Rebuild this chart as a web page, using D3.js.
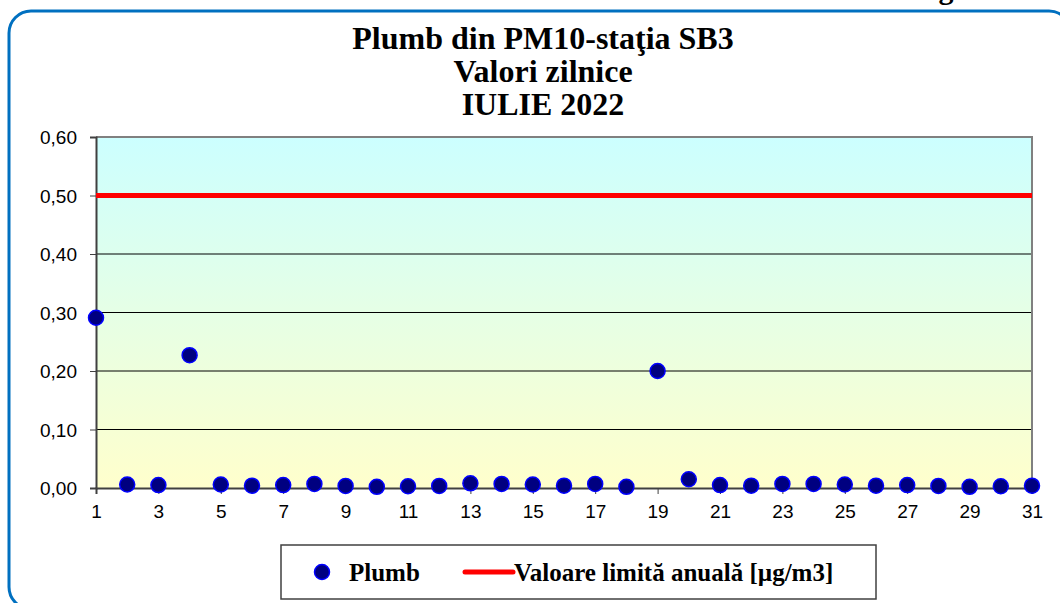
<!DOCTYPE html>
<html><head><meta charset="utf-8">
<script src="https://cdn.jsdelivr.net/npm/d3@7"></script>
<style>html,body{margin:0;padding:0;background:#fff;overflow:hidden}</style>
</head><body>
<svg id="c" width="1060" height="603"></svg>
<script>
const days = d3.range(1, 32);
const plumb = [0.291,0.006,0.005,0.227,0.006,0.004,0.005,0.007,0.0035,0.002,0.003,0.0035,0.008,0.007,0.006,0.004,0.007,0.002,0.200,0.015,0.005,0.004,0.007,0.007,0.006,0.004,0.005,0.0035,0.002,0.003,0.004];
const limitValue = 0.5;
const yTicks = [0,0.1,0.2,0.3,0.4,0.5,0.6];
const xTicks = [1,3,5,7,9,11,13,15,17,19,21,23,25,27,29,31];
const titleLines = ["Plumb din PM10-staţia SB3","Valori zilnice","IULIE 2022"];
const legendLabels = ["Plumb","Valoare limită anuală [µg/m3]"];

const svg = d3.select("#c");
const L=96,R=1032,T=137,B=488;
const x = d3.scaleLinear().domain([1,31]).range([L,R]);
const y = d3.scaleLinear().domain([0,0.6]).range([B,T]);

// fragment of text above frame (cut off at the top edge in the reference)
svg.append("text").attr("x",946).attr("y",-1).attr("text-anchor","middle")
  .attr("font-family","Liberation Serif").attr("font-weight","bold").attr("font-size",30).text("g");

// frame
svg.append("rect").attr("x",9).attr("y",11).attr("width",1062).attr("height",598).attr("rx",22)
  .attr("fill","none").attr("stroke","#0070C0").attr("stroke-width",3);

const defs = svg.append("defs");
const g = defs.append("linearGradient").attr("id","bg").attr("x1",0).attr("y1",0).attr("x2",0).attr("y2",1);
g.append("stop").attr("offset","0%").attr("stop-color","#CCFFFF");
g.append("stop").attr("offset","100%").attr("stop-color","#FFFFCC");
svg.append("rect").attr("x",L).attr("y",T).attr("width",R-L).attr("height",B-T).attr("fill","url(#bg)");

// gridlines
svg.append("g").selectAll("line").data(yTicks.filter(v=>v>0&&v<0.6)).join("line")
  .attr("x1",L).attr("x2",R).attr("y1",d=>y(d)).attr("y2",d=>y(d)).attr("stroke","#000").attr("stroke-width",1);
// top & right border
svg.append("path").attr("d",`M${L},${T}H${R}V${B}`).attr("fill","none").attr("stroke","#808080").attr("stroke-width",2);

// axes
const yAxis = d3.axisLeft(y).tickValues(yTicks).tickSize(6).tickFormat(d=>d3.format(".2f")(d).replace(".",","));
const ya = svg.append("g").attr("transform",`translate(${L},0)`).call(yAxis);
ya.select(".domain").attr("stroke","#404040").attr("stroke-width",2);
ya.selectAll(".tick line").attr("stroke","#404040");
ya.selectAll("text").attr("font-family","Liberation Sans").attr("font-size",19).attr("fill","#000").attr("x",-19).attr("dy","0.35em");

const xAxis = d3.axisBottom(x).tickValues(xTicks).tickSize(6).tickFormat(d3.format("d"));
const xa = svg.append("g").attr("transform",`translate(0,${B})`).call(xAxis);
xa.select(".domain").attr("stroke","#404040").attr("stroke-width",2);
xa.selectAll(".tick line").attr("stroke","#404040");
xa.selectAll("text").attr("font-family","Liberation Sans").attr("font-size",19).attr("fill","#000").attr("y",17).attr("dy","0.71em");

// limit line
svg.append("line").attr("x1",x(1)).attr("x2",x(31)).attr("y1",y(limitValue)).attr("y2",y(limitValue))
  .attr("stroke","#FF0000").attr("stroke-width",5);

// points
svg.append("g").selectAll("circle").data(plumb).join("circle")
  .attr("cx",(d,i)=>x(days[i])).attr("cy",d=>y(d)).attr("r",7.5)
  .attr("fill","#000080").attr("stroke","#0000FF").attr("stroke-width",1.5);

// title
svg.append("g").selectAll("text").data(titleLines).join("text")
  .attr("x",543).attr("y",(d,i)=>49+i*33).attr("text-anchor","middle")
  .attr("font-family","Liberation Serif").attr("font-weight","bold").attr("font-size",32).text(d=>d);

// legend
svg.append("rect").attr("x",281).attr("y",545).attr("width",595).attr("height",54)
  .attr("fill","#fff").attr("stroke","#404040").attr("stroke-width",1.5);
svg.append("circle").attr("cx",322).attr("cy",572).attr("r",7.5).attr("fill","#000080").attr("stroke","#0000FF").attr("stroke-width",1.5);
svg.append("text").attr("x",349).attr("y",581).attr("font-family","Liberation Serif").attr("font-weight","bold").attr("font-size",25).text(legendLabels[0]);
svg.append("line").attr("x1",465).attr("x2",513).attr("y1",572).attr("y2",572).attr("stroke","#FF0000").attr("stroke-width",5).attr("stroke-linecap","round");
svg.append("text").attr("x",514).attr("y",581).attr("font-family","Liberation Serif").attr("font-weight","bold").attr("font-size",25).text(legendLabels[1]);
</script>
</body></html>
